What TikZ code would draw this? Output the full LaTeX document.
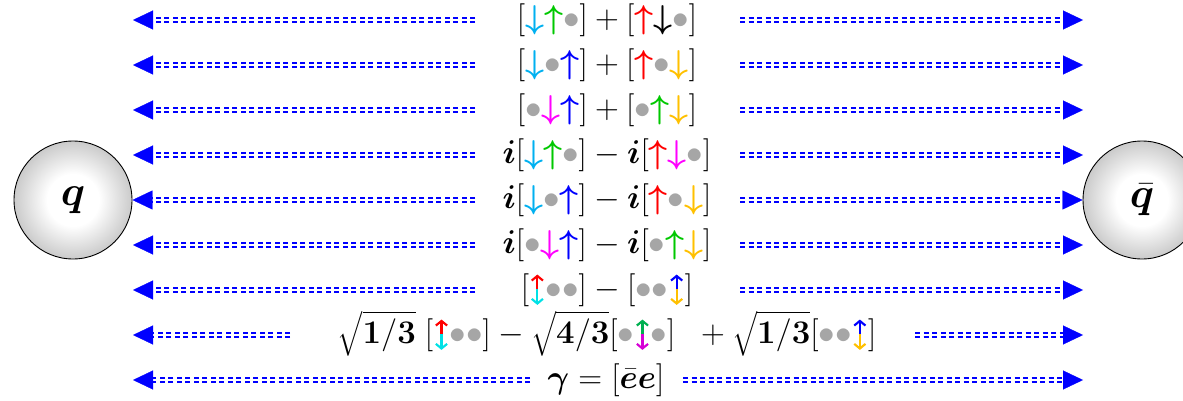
\documentclass[tikz,border=0pt]{standalone}
\usepackage{fix-cm}
\usepackage{amsmath,bm}
\usetikzlibrary{arrows.meta}
\definecolor{lb}{RGB}{0,176,240}
\definecolor{grn}{RGB}{0,200,0}
\definecolor{grn2}{RGB}{0,176,80}
\definecolor{rd}{RGB}{255,0,0}
\definecolor{bl}{RGB}{0,0,255}
\definecolor{gold}{RGB}{255,192,0}
\definecolor{mag}{RGB}{255,0,255}
\definecolor{mag2}{RGB}{214,0,214}
\definecolor{cy}{RGB}{0,225,230}
\definecolor{dotg}{RGB}{166,166,166}
\pgfdeclareradialshading{ballshade}{\pgfpoint{0bp}{0bp}}{color(0bp)=(white); color(11bp)=(white); color(30bp)=(black!28); color(50bp)=(black!55)}
\newcommand{\arUp}[1]{\textcolor{#1}{\bm{\uparrow}}}
\newcommand{\arDn}[1]{\textcolor{#1}{\bm{\downarrow}}}
\newcommand{\gdt}{\textcolor{dotg}{\bullet}}
\newcommand{\udarr}[2]{\tikz[baseline=0pt,x=1em,y=1em,line width=0.065em]{\path (0,-0.22) (0.5,0.74);
  \draw[#1,-{Straight Barb[length=0.14em,width=0.34em]}] (0.25,0.27) -- (0.25,0.72);
  \draw[#2,-{Straight Barb[length=0.14em,width=0.34em]}] (0.25,0.27) -- (0.25,-0.2);}}
\begin{document}
\begin{tikzpicture}[x=1pt,y=-1pt,
  ball/.style={circle, draw=black, line width=0.9pt, minimum size=118pt, inner sep=0pt, shading=ballshade, font=\fontsize{42}{46}\selectfont},
  txt/.style={anchor=base, inner sep=0pt, font=\fontsize{33}{38}\selectfont},
  tipst/.style={draw=white, line width=0.3pt, -{Triangle[length=20pt,width=19pt,color=bl]}},
  dl/.style={draw=bl, line width=2.1pt, dash pattern=on 5pt off 3.5pt, shorten >=19.5pt},
  dlu/.style={dl, transform canvas={yshift=2pt}},
  dld/.style={dl, transform canvas={yshift=-2pt}}]
\useasboundingbox (0,0) rectangle (1183,401);
\node[ball] (q) at (73,200) {$\bm{q}$};
\node[ball] (qb) at (1142,200) {$\bar{\bm{q}}$};
% texts
\node[txt] (t1) at (607,28.3) {$[\arDn{lb}\arUp{grn}\gdt] + [\arUp{rd}\arDn{black}\gdt]$};
\node[txt] (t2) at (607,73.3) {$[\arDn{lb}\gdt\arUp{bl}] + [\arUp{rd}\gdt\arDn{gold}]$};
\node[txt] (t3) at (607,118.3) {$[\gdt\arDn{mag}\arUp{bl}] + [\gdt\arUp{grn}\arDn{gold}]$};
\node[txt] (t4) at (607,163.3) {$\bm{i}[\arDn{lb}\arUp{grn}\gdt] - \bm{i}[\arUp{rd}\arDn{mag}\gdt]$};
\node[txt] (t5) at (607,208.3) {$\bm{i}[\arDn{lb}\gdt\arUp{bl}] - \bm{i}[\arUp{rd}\gdt\arDn{gold}]$};
\node[txt] (t6) at (607,253.3) {$\bm{i}[\gdt\arDn{mag}\arUp{bl}] - \bm{i}[\gdt\arUp{grn}\arDn{gold}]$};
\node[txt] (t7) at (607,298.3) {$[\udarr{rd}{cy}\gdt\gdt] - [\gdt\gdt\udarr{bl}{gold}]$};
\node[txt] (t8) at (607,343.3) {$\sqrt{\mathbf{1/3}}\;[\udarr{rd}{cy}\gdt\gdt] - \sqrt{\mathbf{4/3}}[\gdt\udarr{grn2}{mag2}\gdt]\;\; + \sqrt{\mathbf{1/3}}[\gdt\gdt\udarr{bl}{gold}]$};
\node[txt] (t9) at (606,388.3) {$\bm{\gamma} = [\bar{\bm{e}}\bm{e}]$};
% coordinates
\coordinate (L1) at (133,20);  \coordinate (R1) at (1083,20);
\coordinate (L2) at (133,65);  \coordinate (R2) at (1083,65);
\coordinate (L3) at (133,110); \coordinate (R3) at (1083,110);
\coordinate (L4) at (133,155); \coordinate (R4) at (1083,155);
\coordinate (L6) at (133,245); \coordinate (R6) at (1083,245);
\coordinate (L7) at (133,290); \coordinate (R7) at (1083,290);
\coordinate (L8) at (133,335); \coordinate (R8) at (1083,335);
\coordinate (L9) at (133,380); \coordinate (R9) at (1083,380);
\coordinate (a1) at (475,20);  \coordinate (b1) at (740,20);
\coordinate (a2) at (475,65);  \coordinate (b2) at (740,65);
\coordinate (a3) at (475,110); \coordinate (b3) at (740,110);
\coordinate (a4) at (475,155); \coordinate (b4) at (740,155);
\coordinate (a5) at (475,200); \coordinate (b5) at (740,200);
\coordinate (a6) at (475,245); \coordinate (b6) at (740,245);
\coordinate (a7) at (475,290); \coordinate (b7) at (740,290);
\coordinate (a8) at (290,335); \coordinate (b8) at (915,335);
\coordinate (a9) at (530,380); \coordinate (b9) at (683,380);
% connectors
\foreach \k in {1,2,3,4,6,7,8,9}{
  \draw[tipst] (a\k) -- (L\k); \draw[dlu] (a\k) -- (L\k); \draw[dld] (a\k) -- (L\k);
  \draw[tipst] (b\k) -- (R\k); \draw[dlu] (b\k) -- (R\k); \draw[dld] (b\k) -- (R\k);
}
\draw[tipst] (a5) -- (q.east); \draw[dlu] (a5) -- (q.east); \draw[dld] (a5) -- (q.east);
\draw[tipst] (b5) -- (qb.west); \draw[dlu] (b5) -- (qb.west); \draw[dld] (b5) -- (qb.west);
\end{tikzpicture}
\end{document}
